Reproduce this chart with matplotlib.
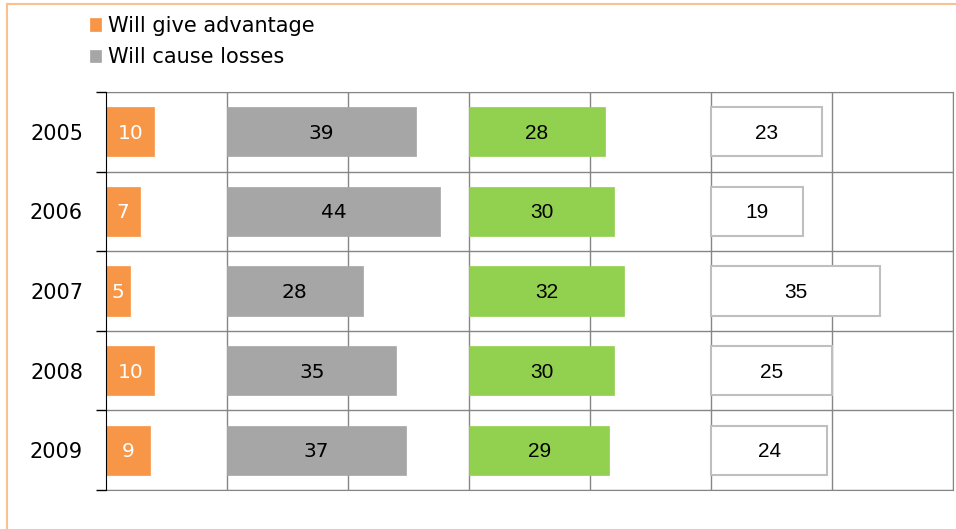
import matplotlib.pyplot as plt

years = ['2005', '2006', '2007', '2008', '2009']
advantage = [10, 7, 5, 10, 9]
losses = [39, 44, 28, 35, 37]
third = [28, 30, 32, 30, 29]
fourth = [23, 19, 35, 25, 24]

offsets = [0, 25, 75, 125]
series = [advantage, losses, third, fourth]
colors = ['#F79646', '#A6A6A6', '#92D050', 'white']
edges = ['#F79646', '#A6A6A6', '#92D050', '#BFBFBF']
txt_colors = ['white', 'black', 'black', 'black']
fonts = ['DejaVu Sans', 'DejaVu Sans', 'Liberation Sans', 'Liberation Sans']
sizes = [14.5, 14.5, 15, 15]
labels = ['Will give advantage', 'Will cause losses', None, None]

fig = plt.figure(figsize=(9.56, 5.29), dpi=100)
ax = fig.add_axes([106 / 956, 1 - 490 / 529, (953 - 106) / 956, (490 - 92) / 529])

ypos = list(range(len(years)))
for vals, off, c, ec, tc, fn, fs, lab in zip(series, offsets, colors, edges, txt_colors, fonts, sizes, labels):
    ax.barh(ypos, vals, left=off, height=0.62, color=c, edgecolor=ec,
            linewidth=1.5 if c == 'white' else 0.5, label=lab, zorder=3)
    for y, v in zip(ypos, vals):
        ax.text(off + v / 2, y + 0.02, str(v), ha='center', va='center', color=tc,
                fontsize=fs, family=fn, zorder=4)

ax.set_xlim(0, 175)
ax.set_ylim(4.5, -0.5)
ax.set_xticks([25, 50, 75, 100, 125, 150, 175])
ax.set_xticklabels([])
ax.tick_params(axis='x', length=0)
ax.grid(axis='x', color='#868686', linewidth=1, zorder=0)

ax.set_yticks(ypos)
ax.set_yticklabels(years, fontsize=15)
ax.tick_params(axis='y', which='major', length=0, pad=16.5)
ax.set_yticks([-0.5, 0.5, 1.5, 2.5, 3.5, 4.5], minor=True)
ax.tick_params(axis='y', which='minor', length=7, width=1, color='black')
ax.grid(axis='y', which='minor', color='#868686', linewidth=1, zorder=0)

for s in ['top', 'right', 'bottom']:
    ax.spines[s].set_color('#868686')
ax.spines['left'].set_color('black')
ax.spines['left'].set_zorder(5)

handles, labs = ax.get_legend_handles_labels()
fig.legend(handles[:2], labs[:2], loc='upper left', bbox_to_anchor=(90 / 956, 1 - 16 / 529),
           frameon=False, fontsize=15, handlelength=0.55, handleheight=0.55,
           handletextpad=0.3, labelspacing=0.55, borderaxespad=0, borderpad=0)

# thin orange frame of the original page (top and left edges)
fig.add_artist(plt.Line2D([7 / 956, 1], [1 - 4 / 529, 1 - 4 / 529], color='#FAC090', linewidth=1.5))
fig.add_artist(plt.Line2D([7 / 956, 7 / 956], [0, 1 - 4 / 529], color='#FAC090', linewidth=1.5))

fig.savefig('out.png', dpi=100)
